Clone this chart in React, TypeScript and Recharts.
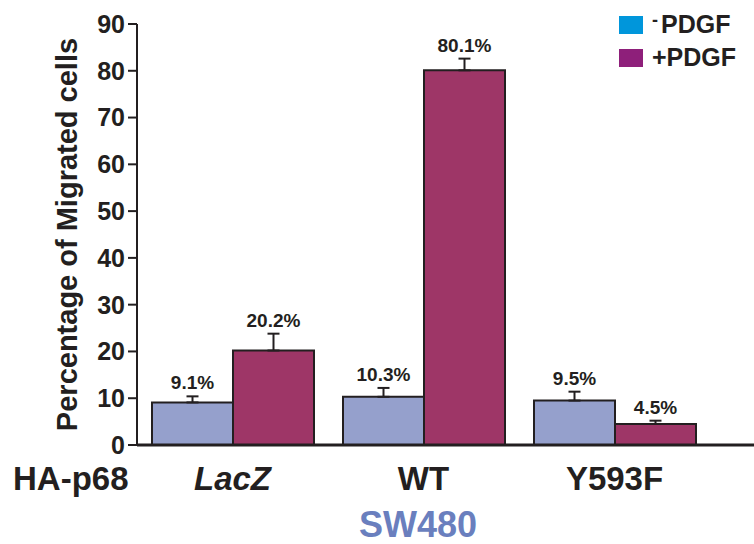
import React from 'react';
import { BarChart, Bar, XAxis, YAxis, Legend, ErrorBar, LabelList } from 'recharts';

const categories = ['LacZ', 'WT', 'Y593F'];
const minusPdgf = [9.1, 10.3, 9.5];
const plusPdgf = [20.2, 80.1, 4.5];
const minusErr = [1.3, 1.9, 1.9];
const plusErr = [3.6, 2.5, 0.7];
const yTicks = [0, 10, 20, 30, 40, 50, 60, 70, 80, 90];
const seriesNames = ['-PDGF', '+PDGF'];
const barColors = ['#95A0CC', '#9E3667'];
const legendColors = ['#0096DB', '#8E1F7A'];
const groupLabel = 'HA-p68';
const cellLine = 'SW480';

const INK = '#231F20';
const FONT = '"Liberation Sans", Arial, sans-serif';

const data = categories.map((name, i) => ({
  name,
  minus: minusPdgf[i],
  plus: plusPdgf[i],
  minusErr: [0, minusErr[i]],
  plusErr: [0, plusErr[i]],
}));

// value label sits just above the error bar cap
const pctLabel = (errs: number[]) => (props: any) => {
  const { x, y, width, height, value, index } = props;
  const capY = y - errs[index] * (height / value);
  return (
    <text x={x + width / 2} y={capY - 7} textAnchor="middle" fontSize={19} fontWeight="bold" fill={INK} fontFamily={FONT}>
      {value}%
    </text>
  );
};

const CategoryTick = ({ x, y, payload }: any) => (
  <text
    x={x}
    y={y + 45}
    textAnchor="middle"
    fontSize={33}
    fontWeight="bold"
    fontStyle={payload.value === 'LacZ' ? 'italic' : 'normal'}
    fill={INK}
    fontFamily={FONT}
  >
    {payload.value}
  </text>
);

const renderLegend = () => (
  <div style={{ fontFamily: FONT }}>
    {seriesNames.map((name, i) => (
      <div key={name} style={{ display: 'flex', alignItems: 'center', height: 33 }}>
        <div style={{ width: 24, height: 18, background: legendColors[i], marginRight: 9 }} />
        <span style={{ fontSize: 25, fontWeight: 'bold', color: INK }}>
          {name.startsWith('-') ? (
            <>
              <span style={{ position: 'relative', top: -7, fontSize: 18, marginRight: 3 }}>-</span>
              {name.slice(1)}
            </>
          ) : (
            name
          )}
        </span>
      </div>
    ))}
  </div>
);

export default function App() {
  return (
    <div style={{ position: 'absolute', top: 0, left: 0, width: 754, height: 544, background: '#fff' }}>
      <BarChart
        width={754}
        height={544}
        data={data}
        margin={{ top: 24, right: 0, left: 0, bottom: 0 }}
        barCategoryGap={15}
        barGap={0}
      >
        <XAxis
          dataKey="name"
          height={99}
          padding={{ left: 0, right: 44 }}
          axisLine={{ stroke: INK, strokeWidth: 3 }}
          tickLine={false}
          tickSize={0}
          tickMargin={0}
          tick={<CategoryTick />}
        />
        <YAxis
          width={137}
          domain={[0, 90]}
          ticks={yTicks}
          interval={0}
          axisLine={{ stroke: INK, strokeWidth: 2 }}
          tickLine={{ stroke: INK, strokeWidth: 2 }}
          tickSize={9}
          tickMargin={3}
          tick={{ fill: INK, fontSize: 25, fontWeight: 'bold', fontFamily: FONT }}
          label={{
            value: 'Percentage of Migrated cells',
            angle: -90,
            position: 'insideLeft',
            offset: 67,
            style: { textAnchor: 'middle', fontSize: 29, fontWeight: 'bold', fill: INK, fontFamily: FONT },
          }}
        />
        <Legend
          layout="horizontal"
          verticalAlign="middle"
          align="center"
          content={renderLegend}
          wrapperStyle={{ position: 'absolute', top: 8, left: 619, width: 135 }}
        />
        <Bar dataKey="minus" name={seriesNames[0]} fill={barColors[0]} stroke={INK} strokeWidth={2} isAnimationActive={false}>
          <ErrorBar dataKey="minusErr" direction="y" width={6} stroke={INK} strokeWidth={2} />
          <LabelList dataKey="minus" content={pctLabel(minusErr)} />
        </Bar>
        <Bar dataKey="plus" name={seriesNames[1]} fill={barColors[1]} stroke={INK} strokeWidth={2} isAnimationActive={false}>
          <ErrorBar dataKey="plusErr" direction="y" width={6} stroke={INK} strokeWidth={2} />
          <LabelList dataKey="plus" content={pctLabel(plusErr)} />
        </Bar>
      </BarChart>
      <svg width={754} height={544} style={{ position: 'absolute', top: 0, left: 0, pointerEvents: 'none' }}>
        <text x={13} y={490} fontSize={33} fontWeight="bold" fill={INK} fontFamily={FONT}>
          {groupLabel}
        </text>
        <text x={418} y={537} textAnchor="middle" fontSize={36} fontWeight="bold" fill="#6A7FBE" fontFamily={FONT}>
          {cellLine}
        </text>
      </svg>
    </div>
  );
}
